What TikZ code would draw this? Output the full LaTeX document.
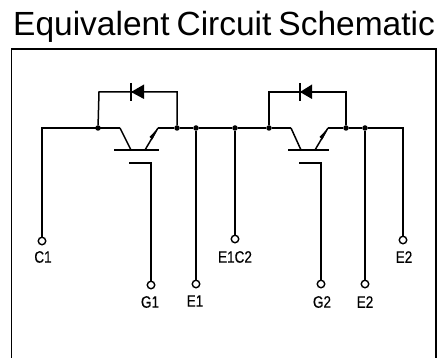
\documentclass[tikz,border=0pt]{standalone}
\usepackage{fontspec}
\setmainfont{Liberation Sans}
\newfontfamily\pinfont[FakeStretch=0.82,FakeBold=0.4]{Liberation Sans}
\begin{document}
\begin{tikzpicture}[x=1pt,y=-1pt]
            \tikzstyle{wire} = [line width=1.5pt,line join=miter]
            \tikzstyle{heavy} = [line width=1.9pt]
            \tikzstyle{dot} = [circle,fill=black,inner sep=0pt,minimum size=5.5pt]
            \tikzstyle{term} = [circle,draw=black,fill=white,line width=1.4pt,inner sep=0pt,minimum size=7.5pt]
            \tikzstyle{pin} = [font=\pinfont\fontsize{16.5}{16.5}\selectfont,inner sep=0pt]
            \def \rail{128}
            \def \loopy{92}
            \useasboundingbox (0,0) rectangle (442,358);

            \node[anchor=base west,inner sep=0pt,font=\fontsize{33.5}{33.5}\selectfont] (title) at (13,36) {\spaceskip=7pt\relax Equivalent Circuit Schematic};
            \draw[line width=1.1pt] (11.5,358) -- (11.5,49) -- (436,49) -- (436,358);

            % rail points, left to right
            \coordinate (railstart) at (42,\rail);
            \node[dot] (j1) at (98,\rail) {};
            \coordinate (cA) at (120,\rail);
            \coordinate (eA) at (158,\rail);
            \node[dot] (j2) at (177,\rail) {};
            \node[dot] (j3) at (196,\rail) {};
            \node[dot] (j4) at (235,\rail) {};
            \node[dot] (j5) at (269,\rail) {};
            \coordinate (cB) at (291,\rail);
            \coordinate (eB) at (328,\rail);
            \node[dot] (j6) at (346,\rail) {};
            \node[dot] (j7) at (365,\rail) {};
            \coordinate (railend) at (403,\rail);

            % terminals
            \node[term] (C1) at (42,241) {};
            \node[term] (G1) at (151,285) {};
            \node[term] (E1) at (196,284) {};
            \node[term] (E1C2) at (235,239) {};
            \node[term] (G2) at (321,284) {};
            \node[term] (E2a) at (365,284) {};
            \node[term] (E2b) at (403,240) {};
            \node[pin] at (43,257) {C1};
            \node[pin] at (150,302) {G1};
            \node[pin] at (195,301) {E1};
            \node[pin] at (235,257) {E1C2};
            \node[pin] at (322,302) {G2};
            \node[pin] at (365,302) {E2};
            \node[pin] at (404,257) {E2};

            \draw[wire] (C1) -- (railstart) -- (cA);
            \draw[wire] (eA) -- (j2) -- (j3) -- (j4) -- (j5) -- (cB);
            \draw[wire] (eB) -- (j6) -- (j7) -- (railend) -- (E2b);
            \draw[wire] (j3) -- (E1);
            \draw[wire] (j4) -- (E1C2);
            \draw[wire] (j7) -- (E2a);

            % left transistor and diode
            \coordinate (barA) at (114,150);
            \coordinate (barAend) at (159,150);
            \coordinate (baseCA) at (131,150);
            \coordinate (baseEA) at (145,150);
            \coordinate (gateA) at (129,163);
            \coordinate (gateAc) at (151,163);
            \coordinate (loopA) at (99,\loopy);
            \coordinate (loopAend) at (177,\loopy);
            \draw[heavy] (barA) -- (barAend);
            \draw[wire] (cA) -- (baseCA);
            \draw[wire] (baseEA) -- (eA);
            \fill (158,128) -- (149.5,137) -- (152.5,139.5) -- cycle;
            \draw[heavy] (gateA) -- (gateAc) -- (G1);
            \draw[wire] (j1) -- (loopA) -- (loopAend) -- (j2);
            \fill (131,92) -- (144,84.5) -- (144,99) -- cycle;
            \draw[wire] (131,83) -- (131,101);

            % right transistor and diode
            \coordinate (barB) at (288,150);
            \coordinate (barBend) at (329,150);
            \coordinate (baseCB) at (301,150);
            \coordinate (baseEB) at (315,150);
            \coordinate (gateB) at (299,163);
            \coordinate (gateBc) at (321,163);
            \coordinate (loopB) at (269,\loopy);
            \coordinate (loopBend) at (346,\loopy);
            \draw[heavy] (barB) -- (barBend);
            \draw[wire] (cB) -- (baseCB);
            \draw[wire] (baseEB) -- (eB);
            \fill (328,128) -- (319.5,137) -- (322.5,139.5) -- cycle;
            \draw[heavy] (gateB) -- (gateBc) -- (G2);
            \draw[wire] (j5) -- (loopB) -- (loopBend) -- (j6);
            \fill (300,92) -- (312,84.5) -- (312,99) -- cycle;
            \draw[wire] (300,83) -- (300,101);
\end{tikzpicture}
\end{document}
